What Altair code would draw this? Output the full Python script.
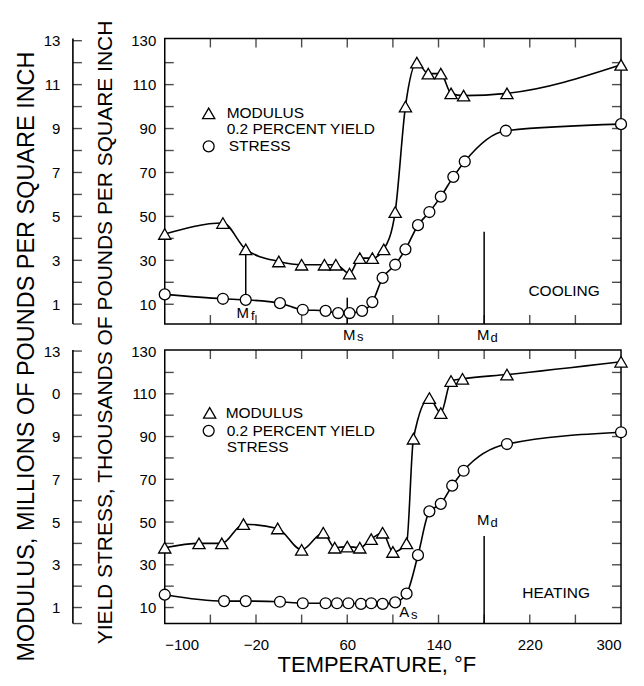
import altair as alt
import pandas as pd

# ---------------- data ----------------
# COOLING panel
cool_mod_temp = [-100, -49, -29, 0, 20, 40, 50, 62, 71, 82, 92, 102, 111, 121, 131, 142, 151, 162, 200, 300]
cool_mod_msi = [4.2, 4.7, 3.5, 2.95, 2.8, 2.8, 2.8, 2.4, 3.1, 3.1, 3.5, 5.2, 10.0, 12.0, 11.5, 11.5, 10.6, 10.5, 10.6, 11.9]
cool_ys_temp = [-100, -49, -29, 1, 21, 41, 52, 62, 73, 82, 91, 102, 111, 122, 132, 142, 153, 163, 199, 300]
cool_ys_ksi = [14.5, 12.5, 12.0, 10.5, 7.5, 7.0, 6.0, 6.0, 7.0, 11.0, 22.0, 28.0, 35.0, 46.0, 52.0, 59.0, 68.0, 75.0, 89.0, 92.0]

# HEATING panel
heat_mod_temp = [-100, -70, -50, -31, -1, 20, 39, 49, 60, 71, 81, 91, 100, 112, 118, 132, 142, 151, 161, 200, 300]
heat_mod_msi = [3.8, 4.0, 4.0, 4.9, 4.7, 3.7, 4.5, 3.8, 3.85, 3.8, 4.2, 4.5, 3.6, 4.0, 8.9, 10.8, 10.1, 11.6, 11.7, 11.9, 12.5]
heat_ys_temp = [-100, -48, -29, 1, 21, 41, 51, 61, 72, 81, 91, 102, 112, 122, 132, 142, 152, 162, 200, 300]
heat_ys_ksi = [16.0, 13.0, 13.0, 12.7, 12.0, 12.0, 12.0, 12.0, 11.7, 12.0, 11.7, 12.4, 16.5, 34.5, 55.0, 58.5, 67.0, 74.0, 86.5, 92.0]

x_label_values = [-100, -20, 60, 140, 220, 300]
x_tick_values = [-60, -20, 20, 60, 100, 140, 180, 220, 260]
ys_label_values = [10, 30, 50, 70, 90, 110, 130]
ys_tick_values = [10, 20, 30, 40, 50, 60, 70, 80, 90, 100, 110, 120]
mod_tick_values = [10, 20, 30, 40, 50, 60, 70, 80, 90, 100, 110, 120, 130]  # 1..13 million psi

FONT = "Liberation Sans"
W = 457
MOD_AXIS = 92     # distance of the modulus axis line left of the frame
TICK = 9


def ax(**kw):
    d = dict(grid=False, labels=False, domain=False, ticks=False, title=None)
    d.update(kw)
    return alt.Axis(**d)


def sub_label(temp, v, main, sub, dxm, dxs, dys):
    d = pd.DataFrame({"temp": [temp], "v": [v]})
    b = alt.Chart(d)
    m = b.mark_text(font=FONT, fontSize=15, color="black", dx=dxm, align="center", baseline="middle").encode(
        x=alt.X("temp:Q", axis=None), y=alt.Y("v:Q", axis=None), text=alt.value(main))
    s = b.mark_text(font=FONT, fontSize=13, color="black", dx=dxs, dy=dys, align="center", baseline="middle").encode(
        x=alt.X("temp:Q", axis=None), y=alt.Y("v:Q", axis=None), text=alt.value(sub))
    return [m, s]


def text_px(x, y, txt, align="left", size=15.5):
    return alt.Chart(pd.DataFrame({"a": [0]})).mark_text(
        font=FONT, fontSize=size, color="black", align=align, baseline="middle").encode(
        x=alt.value(x), y=alt.value(y), text=alt.value(txt))


def sym_px(x, y, shape):
    return alt.Chart(pd.DataFrame({"a": [0]})).mark_point(
        shape=shape, size=120 if shape == "circle" else 150, filled=True, fill="white",
        stroke="black", strokeWidth=1.3, opacity=1).encode(x=alt.value(x), y=alt.value(y))


def yticks(values, xpix):
    return alt.Chart(pd.DataFrame({"v": values})).mark_tick(
        orient="horizontal", size=TICK, thickness=1.4, color="black").encode(
        y=alt.Y("v:Q", axis=None), x=alt.value(xpix))


def xticks(values, ypix):
    return alt.Chart(pd.DataFrame({"t": values})).mark_tick(
        orient="vertical", size=TICK, thickness=1.4, color="black").encode(
        x=alt.X("t:Q", axis=None), y=alt.value(ypix))


def panel(mod_t, mod_v, ys_t, ys_v, H, ydom, bottom, rules, labels, legend, caption):
    xs = alt.Scale(domain=[-100, 300], nice=False, zero=False)
    yscale = alt.Scale(domain=ydom, nice=False, zero=False)
    dmod = pd.DataFrame({"temp": mod_t, "mod": mod_v})
    dys = pd.DataFrame({"temp": ys_t, "ys": ys_v})
    base_m = alt.Chart(dmod).transform_calculate(y="datum.mod * 10")
    base_s = alt.Chart(dys)

    if bottom:
        x_lab = ax(orient="bottom", values=x_label_values, labels=True, labelFontSize=15, labelPadding=14,
                   tickSize=0, labelColor="black", labelFont=FONT,
                   title="TEMPERATURE, °F", titleFontSize=22, titleFontWeight="normal", titleFont=FONT,
                   titleColor="black", titleX=212, titleY=41, titleAlign="center", titleBaseline="middle")
    else:
        x_lab = None

    ys_lab_kw = dict(orient="left", values=ys_label_values, labels=True, labelFontSize=15, labelPadding=9,
                     tickSize=0, labelColor="black", labelFont=FONT)
    mod_lab_kw = dict(orient="left", offset=MOD_AXIS, values=ys_label_values, labels=True, labelFontSize=15,
                      labelPadding=13, tickSize=0, labelColor="black", labelFont=FONT,
                      labelExpr=("datum.value == 110 ? '0' : format(datum.value/10, 'd')") if bottom
                      else "format(datum.value/10, 'd')")
    if not bottom:
        ys_lab_kw.update(title="YIELD STRESS, THOUSANDS OF POUNDS PER SQUARE INCH", titleX=-59, titleY=294,
                         titleAngle=-90, titleAlign="center", titleBaseline="middle", titleFontSize=21,
                         titleFontWeight="normal", titleFont=FONT, titleColor="black")
        mod_lab_kw.update(title="MODULUS, MILLIONS OF POUNDS PER SQUARE INCH", titleX=-46, titleY=318,
                          titleAngle=-90, titleAlign="center", titleBaseline="middle", titleFontSize=23.5,
                          titleFontWeight="normal", titleFont=FONT, titleColor="black")
    y_lab = ax(**ys_lab_kw)
    y_mod_lab = ax(**mod_lab_kw)

    layers = []
    layers.append(base_s.mark_line(interpolate="monotone", color="black", strokeWidth=1.6).encode(
        x=alt.X("temp:Q", scale=xs, axis=None), y=alt.Y("ys:Q", scale=yscale, axis=y_lab)))
    layers.append(base_m.mark_line(interpolate="monotone", color="black", strokeWidth=1.6).encode(
        x=alt.X("temp:Q", scale=xs, axis=x_lab), y=alt.Y("y:Q", scale=yscale, axis=None)))
    # frame ticks (inward) on all four sides
    layers.append(yticks(ys_tick_values, TICK / 2))
    layers.append(yticks(ys_tick_values, W - TICK / 2))
    layers.append(xticks(x_tick_values, TICK / 2))
    layers.append(xticks(x_tick_values, H - TICK / 2))
    # modulus axis line with ticks pointing right
    layers.append(alt.Chart(pd.DataFrame({"a": [0]})).mark_rule(color="black", strokeWidth=1.6).encode(
        x=alt.value(-MOD_AXIS), y=alt.value(0), y2=alt.value(H)))
    layers.append(yticks(mod_tick_values + [ydom[0]], -MOD_AXIS + TICK / 2))
    # annotation rules
    rd = pd.DataFrame(rules, columns=["temp", "y0", "y1"])
    layers.append(alt.Chart(rd).mark_rule(color="black", strokeWidth=1.5).encode(
        x=alt.X("temp:Q", axis=None), y=alt.Y("y0:Q", axis=None), y2="y1:Q"))
    layers.append(base_s.mark_point(shape="circle", size=120, filled=True, fill="white", stroke="black",
                                    strokeWidth=1.3, opacity=1).encode(
        x=alt.X("temp:Q", scale=xs, axis=None), y=alt.Y("ys:Q", scale=yscale, axis=None)))
    layers.append(base_m.mark_point(shape="triangle-up", size=150, filled=True, fill="white", stroke="black",
                                    strokeWidth=1.3, opacity=1).encode(
        x=alt.X("temp:Q", axis=None), y=alt.Y("y:Q", axis=y_mod_lab)))
    for lab in labels:
        layers += sub_label(*lab)
    for item in legend:
        if item[0] == "sym":
            layers.append(sym_px(item[1], item[2], item[3]))
        else:
            layers.append(text_px(item[1], item[2], item[3]))
    layers.append(text_px(caption[0], caption[1], caption[2], align="center", size=15.5))

    return alt.layer(*layers).resolve_axis(x="independent", y="independent").properties(width=W, height=H)


top = panel(cool_mod_temp, cool_mod_msi, cool_ys_temp, cool_ys_ksi, 286, [1, 131], False,
            rules=[[-29, 35, 12], [60, 13, 1], [180, 43, 1]],
            labels=[(-29, 6, "M", "f", -3, 7, 3), (60, -4, "M", "s", 2, 13, 2), (180, -4, "M", "d", -1, 10, 3)],
            legend=[("sym", 44, 75, "triangle-up"), ("txt", 62, 75, "MODULUS"),
                    ("txt", 62, 91, "0.2 PERCENT YIELD"),
                    ("sym", 44, 108, "circle"), ("txt", 64, 108, "STRESS")],
            caption=(400, 253, "COOLING"))

bottom = panel(heat_mod_temp, heat_mod_msi, heat_ys_temp, heat_ys_ksi, 274, [2.5, 130.5], True,
               rules=[[180, 43.5, 2.5]],
               labels=[(180, 51, "M", "d", -1, 10, 3), (110, 8, "A", "s", 0, 10, 3)],
               legend=[("sym", 45, 63, "triangle-up"), ("txt", 61, 63, "MODULUS"),
                       ("sym", 44, 81, "circle"), ("txt", 62, 81, "0.2 PERCENT YIELD"),
                       ("txt", 62, 97, "STRESS")],
               caption=(392, 243, "HEATING"))

chart = alt.vconcat(top, bottom, spacing=26, bounds="flush").properties(
    padding={"left": 6, "top": 10, "right": 5, "bottom": 5}
).configure_view(stroke="black", strokeWidth=1.5).configure_axis(grid=False)

chart.save("out.html", embed_options={"renderer": "svg", "actions": False})
